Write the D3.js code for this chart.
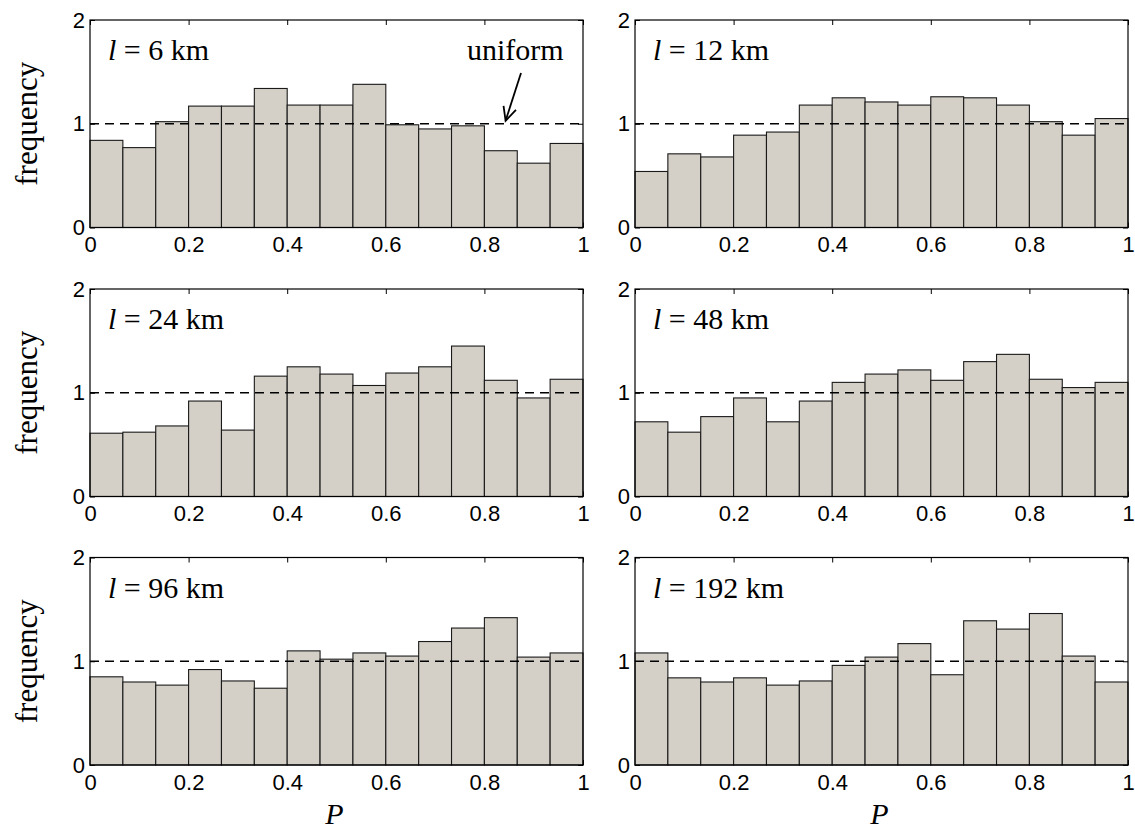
<!DOCTYPE html>
<html>
<head>
<meta charset="utf-8">
<script src="https://cdn.jsdelivr.net/npm/d3@7/dist/d3.min.js"></script>
<style>
  html, body { margin: 0; padding: 0; background: #fff; }
  svg { display: block; }
</style>
</head>
<body>
<svg id="chart" width="1135" height="834"></svg>
<script>
// Histogram heights of P (15 equal bins on [0,1]) for each length scale
const freq6   = [0.84, 0.77, 1.02, 1.17, 1.17, 1.34, 1.18, 1.18, 1.38, 0.99, 0.95, 0.98, 0.74, 0.62, 0.81];
const freq12  = [0.54, 0.71, 0.68, 0.89, 0.92, 1.18, 1.25, 1.21, 1.18, 1.26, 1.25, 1.18, 1.02, 0.89, 1.05];
const freq24  = [0.61, 0.62, 0.68, 0.92, 0.64, 1.16, 1.25, 1.18, 1.07, 1.19, 1.25, 1.45, 1.12, 0.95, 1.13];
const freq48  = [0.72, 0.62, 0.77, 0.95, 0.72, 0.92, 1.10, 1.18, 1.22, 1.12, 1.30, 1.37, 1.13, 1.05, 1.10];
const freq96  = [0.85, 0.80, 0.77, 0.92, 0.81, 0.74, 1.10, 1.02, 1.08, 1.05, 1.19, 1.32, 1.42, 1.04, 1.08];
const freq192 = [1.08, 0.84, 0.80, 0.84, 0.77, 0.81, 0.96, 1.04, 1.17, 0.87, 1.39, 1.31, 1.46, 1.05, 0.80];

const scales   = ["6", "12", "24", "48", "96", "192"];
const series   = [freq6, freq12, freq24, freq48, freq96, freq192];
const xTicks   = [0, 0.2, 0.4, 0.6, 0.8, 1];
const xTickFmt = ["0", "0.2", "0.4", "0.6", "0.8", "1"];
const yTicks   = [0, 1, 2];
const uniformLevel = 1;
const arrowTipP = 0.843;
const nBins = 15;

const svg = d3.select("#chart");

// panel geometry
const colX = [90, 635];
const rowY = [20, 289, 557.5];
const pw = 493, ph = 207.5;

const x = d3.scaleLinear().domain([0, 1]).range([0, pw]);
const y = d3.scaleLinear().domain([0, 2]).range([ph, 0]);
const edges = d3.range(nBins + 1).map(i => i / nBins);

const sansFont = "'Liberation Sans', Arial, Helvetica, sans-serif";
const serifFont = "'Liberation Serif', 'Times New Roman', Times, serif";

series.forEach((vals, k) => {
  const col = k % 2, row = Math.floor(k / 2);
  const g = svg.append("g").attr("transform", `translate(${colX[col]},${rowY[row]})`);

  // axes with inward ticks
  const xb = d3.axisBottom(x).tickValues(xTicks).tickFormat((d, i) => xTickFmt[i]).tickSizeInner(-5).tickSizeOuter(0).tickPadding(9);
  const xt = d3.axisTop(x).tickValues(xTicks).tickFormat("").tickSizeInner(-5).tickSizeOuter(0);
  const yl = d3.axisLeft(y).tickValues(yTicks).tickFormat(d3.format("d")).tickSizeInner(-5).tickSizeOuter(0).tickPadding(5);
  const yr = d3.axisRight(y).tickValues(yTicks).tickFormat("").tickSizeInner(-5).tickSizeOuter(0);

  [
    [xb, `translate(0,${ph})`],
    [xt, "translate(0,0)"],
    [yl, "translate(0,0)"],
    [yr, `translate(${pw},0)`]
  ].forEach(([ax, tr]) => {
    const a = g.append("g").attr("transform", tr).call(ax);
    a.select(".domain").remove();
    a.selectAll(".tick line").attr("stroke", "#000").attr("stroke-width", 1);
    a.selectAll(".tick text")
      .attr("fill", "#000")
      .style("font-family", sansFont)
      .style("font-size", "22px");
  });

  // bars
  g.append("g").selectAll("rect")
    .data(vals)
    .join("rect")
    .attr("x", (d, i) => x(edges[i]))
    .attr("width", (d, i) => x(edges[i + 1]) - x(edges[i]))
    .attr("y", d => y(d))
    .attr("height", d => y(0) - y(d))
    .attr("fill", "#d4d0c8")
    .attr("stroke", "#1a1a1a")
    .attr("stroke-width", 1.1);

  // uniform reference level
  g.append("line")
    .attr("x1", x(0)).attr("x2", x(1))
    .attr("y1", y(uniformLevel)).attr("y2", y(uniformLevel))
    .attr("stroke", "#000")
    .attr("stroke-width", 1.4)
    .attr("stroke-dasharray", "9,6");

  // frame
  g.append("rect")
    .attr("x", 0).attr("y", 0).attr("width", pw).attr("height", ph)
    .attr("fill", "none").attr("stroke", "#000").attr("stroke-width", 1.2);

  // length-scale label
  const lab = g.append("text")
    .attr("x", 18).attr("y", 40)
    .style("font-family", serifFont)
    .style("font-size", "30px")
    .attr("fill", "#000");
  lab.append("tspan").style("font-style", "italic").text("l");
  lab.append("tspan").text(` = ${scales[k]} km`);

  if (col === 0) {
    svg.append("text")
      .attr("transform", `translate(37,${rowY[row] + ph / 2}) rotate(-90)`)
      .attr("text-anchor", "middle")
      .style("font-family", serifFont)
      .style("font-size", "31px")
      .attr("fill", "#000")
      .text("frequency");
  }
  if (row === 2) {
    svg.append("text")
      .attr("x", colX[col] + pw / 2 - 2)
      .attr("y", 824)
      .attr("text-anchor", "middle")
      .style("font-family", serifFont)
      .style("font-style", "italic")
      .style("font-size", "30px")
      .attr("fill", "#000")
      .text("P");
  }

  if (k === 0) {
    // annotation of the uniform level
    g.append("text")
      .attr("x", 377).attr("y", 40)
      .style("font-family", serifFont)
      .style("font-size", "30px")
      .attr("fill", "#000")
      .text("uniform");
    const tip = [x(arrowTipP), y(uniformLevel) - 3];
    const start = [431, 53];
    g.append("line")
      .attr("x1", start[0]).attr("y1", start[1])
      .attr("x2", tip[0]).attr("y2", tip[1])
      .attr("stroke", "#000").attr("stroke-width", 1.8);
    const ang = Math.atan2(tip[1] - start[1], tip[0] - start[0]);
    const L = 15, spread = 0.45;
    const head = [ang + Math.PI - spread, ang + Math.PI + spread].map(a =>
      [tip[0] + L * Math.cos(a), tip[1] + L * Math.sin(a)]);
    g.append("path")
      .attr("d", `M${head[0][0]},${head[0][1]}L${tip[0]},${tip[1]}L${head[1][0]},${head[1][1]}`)
      .attr("fill", "none").attr("stroke", "#000").attr("stroke-width", 1.8);
  }
});
</script>
</body>
</html>
